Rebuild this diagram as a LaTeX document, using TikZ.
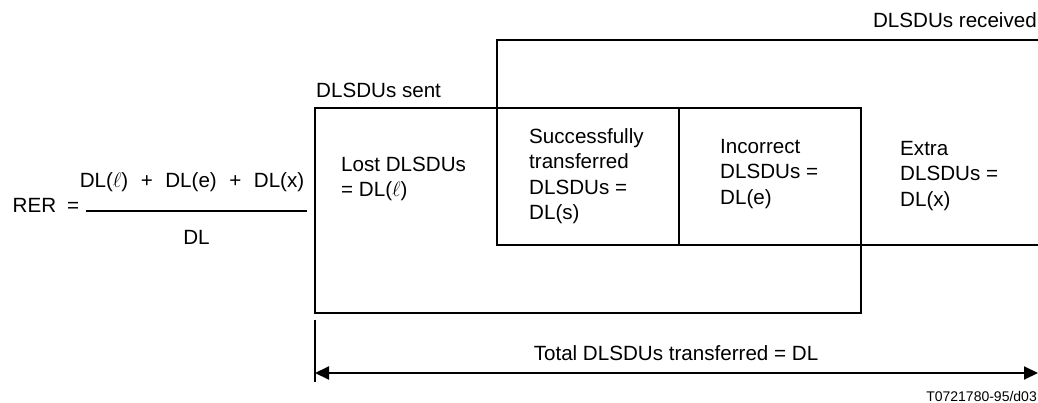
\documentclass[tikz,border=0pt]{standalone}
\usepackage{fontspec}
\setmainfont{Liberation Sans}
\usetikzlibrary{arrows.meta}
\begin{document}
\begin{tikzpicture}[x=1pt,y=-1pt,
  txt/.style={font=\fontsize{20.6}{25.5}\selectfont, inner sep=0pt, align=left, anchor=north west},
  lbl/.style={font=\fontsize{20.6}{25.5}\selectfont, inner sep=0pt},
  boxline/.style={line width=1.3pt, line join=miter},
  thick line/.style={line width=2pt},
  dimarrow/.style={line width=2pt, {Triangle[length=14pt,width=13pt]}-{Triangle[length=14pt,width=13pt]}}]
\useasboundingbox (0,0) rectangle (1038,403);

% boxes
\coordinate (sentNW) at (315,108);
\coordinate (sentSE) at (861,313);
\draw[boxline] (sentNW) rectangle (sentSE);
\coordinate (recTR) at (1038,40);
\coordinate (recTL) at (497,40);
\coordinate (recBL) at (497,245);
\coordinate (recBR) at (1038,245);
\draw[boxline] (recTR) -- (recTL) -- (recBL) -- (recBR);
\coordinate (divT) at (679,108);
\coordinate (divB) at (679,245);
\draw[boxline] (divT) -- (divB);

% headings
\node[lbl, anchor=base east] (received) at (1037,28) {DLSDUs received};
\node[lbl, anchor=base west] (sent) at (316,98) {DLSDUs sent};

% region texts
\node[txt] (lost) at (341,156) {\rule{0pt}{15pt}Lost DLSDUs\\= DL($\ell$)};
\node[txt] (succ) at (529,128) {\rule{0pt}{15pt}Successfully\\transferred\\DLSDUs =\\DL(s)};
\node[txt] (inc) at (720,138) {\rule{0pt}{15pt}Incorrect\\DLSDUs =\\DL(e)};
\node[txt] (extra) at (900,140) {\rule{0pt}{15pt}Extra\\DLSDUs =\\DL(x)};

% formula
\node[lbl, anchor=base west] (rer) at (12.5,213) {RER\hspace{11pt}=};
\node[lbl, anchor=base] (num) at (192,188) {DL($\ell$)\hspace{12.5pt}+\hspace{12.5pt}DL(e)\hspace{12.5pt}+\hspace{12.5pt}DL(x)};
\coordinate (barL) at (86,211.5);
\coordinate (barR) at (307,211.5);
\draw[thick line] (barL) -- (barR);
\node[lbl, anchor=base] (den) at (196.5,245) {DL};

% total dimension
\coordinate (tickT) at (315,320);
\coordinate (tickB) at (315,381.5);
\draw[thick line] (tickT) -- (tickB);
\coordinate (arrL) at (315,373);
\coordinate (arrR) at (1038,373);
\draw[dimarrow] (arrL) -- (arrR);
\node[lbl, anchor=base] (total) at (676,360) {Total DLSDUs transferred = DL};

\node[font=\fontsize{14}{16}\selectfont, inner sep=0pt, anchor=base east] (ref) at (1037,401) {T0721780-95/d03};
\end{tikzpicture}
\end{document}
